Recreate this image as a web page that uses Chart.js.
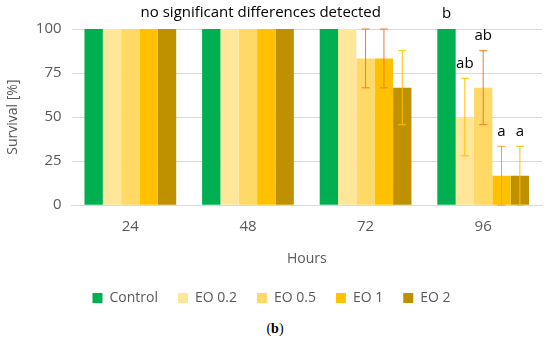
<!DOCTYPE html>
<html><head><meta charset="utf-8">
<script src="https://cdn.jsdelivr.net/npm/chart.js@4.4.1/dist/chart.umd.min.js"></script>
<style>
html,body{margin:0;padding:0;background:#fff;}
#wrap{position:relative;width:550px;height:350px;}
#cap{position:absolute;left:0;width:550px;top:321px;text-align:center;font-family:"Liberation Serif",serif;font-size:14px;color:#000;}
</style></head>
<body><div id="wrap"><canvas id="c" width="550" height="315"></canvas><div id="cap">(<b>b</b>)</div></div>
<script>
const categories = ["24", "48", "72", "96"];
const seriesNames = ["Control", "EO 0.2", "EO 0.5", "EO 1", "EO 2"];
const control = [100, 100, 100, 100];
const eo02 = [100, 100, 100, 50];
const eo05 = [100, 100, 83.3, 66.7];
const eo1 = [100, 100, 83.3, 16.7];
const eo2 = [100, 100, 66.7, 16.7];
const errControl = [0, 0, 0, 0];
const errEo02 = [0, 0, 0, 22];
const errEo05 = [0, 0, 16.7, 21];
const errEo1 = [0, 0, 16.7, 16.7];
const errEo2 = [0, 0, 21, 16.7];
const letters96 = ["b", "ab", "ab", "a", "a"];
const topNote = "no significant differences detected";
const yTicks = [0, 25, 50, 75, 100];

const colors = ["#00B050", "#FFE699", "#FFD966", "#FFC000", "#BF9000"];
const errColors = [
  ["#ED7D31","#ED7D31","#ED7D31","#ED7D31"],
  ["#FFC000","#FFC000","#FFC000","#FFC000"],
  ["#ED7D31","#ED7D31","#ED7D31","#ED7D31"],
  ["#ED7D31","#ED7D31","#ED7D31","#F4A03C"],
  ["#FFC000","#FFC000","#FFC000","#FFC000"]
];
const values = [control, eo02, eo05, eo1, eo2];
const errs = [errControl, errEo02, errEo05, errEo1, errEo2];

const FONT = "'Open Sans', sans-serif";
const GREY = "#595959";
const FS = 15;

const overlay = {
  id: 'overlay',
  afterDatasetsDraw(chart) {
    const ctx = chart.ctx;
    const y = chart.scales.y;
    ctx.save();
    values.forEach((vals, di) => {
      const meta = chart.getDatasetMeta(di);
      vals.forEach((v, i) => {
        const e = errs[di][i];
        if (!e) return;
        const x = meta.data[i].x;
        const yt = y.getPixelForValue(Math.min(100, v + e));
        const yb = y.getPixelForValue(Math.max(0, v - e));
        ctx.strokeStyle = errColors[di][i];
        ctx.lineWidth = 1;
        ctx.beginPath();
        ctx.moveTo(x, yt); ctx.lineTo(x, yb);
        ctx.moveTo(x - 4, yt); ctx.lineTo(x + 4, yt);
        ctx.moveTo(x - 4, yb); ctx.lineTo(x + 4, yb);
        ctx.stroke();
      });
    });
    ctx.fillStyle = "#000";
    ctx.font = FS + "px " + FONT;
    ctx.textAlign = "center";
    ctx.textBaseline = "middle";
    const idx = 3;
    values.forEach((vals, di) => {
      const meta = chart.getDatasetMeta(di);
      const x = meta.data[idx].x;
      const top = vals[idx] + errs[di][idx];
      const yy = y.getPixelForValue(top) - 15;
      ctx.fillText(letters96[di], x, yy);
    });
    const xs = chart.scales.x;
    ctx.fillText(topNote, (xs.getPixelForValue(0) + xs.getPixelForValue(3)) / 2 - 46, y.getPixelForValue(100) - 16);
    ctx.restore();
  }
};

new Chart(document.getElementById('c'), {
  type: 'bar',
  data: {
    labels: categories,
    datasets: seriesNames.map((n, i) => ({
      label: n,
      data: values[i],
      backgroundColor: colors[i],
      borderWidth: 0,
      barPercentage: 1.0,
      categoryPercentage: 0.78
    }))
  },
  options: {
    responsive: false,
    animation: false,
    layout: { padding: { top: 29, right: 8, left: 1, bottom: 0 } },
    plugins: {
      tooltip: { enabled: false },
      legend: {
        position: 'bottom',
        labels: {
          boxWidth: 10, boxHeight: 10, color: GREY,
          font: { family: FONT, size: 14 },
          padding: 20
        }
      }
    },
    scales: {
      x: {
        grid: { display: false },
        border: { display: true, color: "#D9D9D9" },
        ticks: { color: GREY, font: { family: FONT, size: FS }, padding: 5 },
        title: { display: true, text: "Hours", color: GREY, font: { family: FONT, size: 14 }, padding: { top: 9 } }
      },
      y: {
        min: 0, max: 100,
        afterBuildTicks(axis) { axis.ticks = yTicks.map(v => ({ value: v })); },
        grid: { color: "#D9D9D9", drawTicks: false },
        border: { display: false },
        ticks: { color: GREY, font: { family: FONT, size: FS }, padding: 10 },
        title: { display: true, text: "Survival [%]", color: GREY, font: { family: FONT, size: 14 } }
      }
    }
  },
  plugins: [overlay]
});
</script>
</body></html>
